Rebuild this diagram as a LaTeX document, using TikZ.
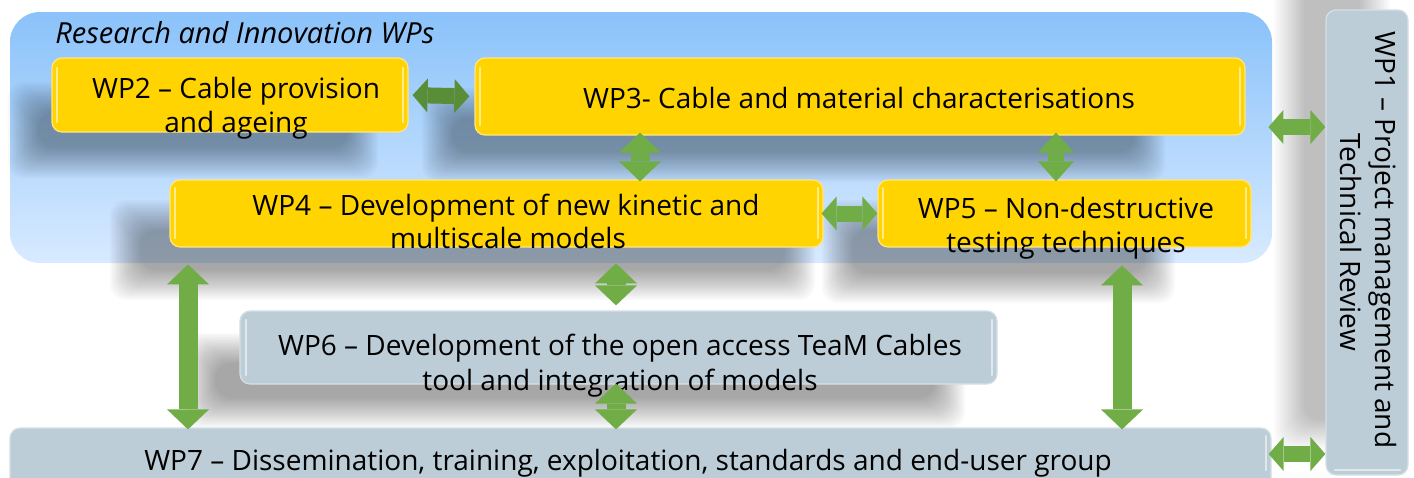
\documentclass[tikz,border=0pt]{standalone}
\usepackage{fontspec}
\setmainfont{Open Sans}
\usetikzlibrary{arrows.meta}
\definecolor{wpyellow}{HTML}{FFD400}
\definecolor{wpyedge}{HTML}{FFE680}
\definecolor{wpgray}{HTML}{BCCDD7}
\definecolor{wpgedge}{HTML}{D5E0E7}
\definecolor{bgtop}{HTML}{8AC2FA}
\definecolor{bgbot}{HTML}{D8EAFF}
\definecolor{arrg}{HTML}{70AD47}
\definecolor{arrgdark}{HTML}{4F7F32}
\newcommand\softshadow[5]{%
  \foreach \k in {0,...,15}{%
    \fill[black, opacity=#5, rounded corners=8pt] (#1+\k*2, #2+\k*2) rectangle (#3-\k*2, #4-\k*2);}}
\begin{document}
\begin{tikzpicture}[x=0.5pt,y=-0.5pt,
  ybox/.style={draw=wpyedge, line width=0.6pt, fill=wpyellow, rounded corners=5pt, inner sep=0pt},
  gbox/.style={draw=wpgedge, line width=0.6pt, fill=wpgray, rounded corners=5pt, inner sep=0pt},
  bgbox/.style={rounded corners=15pt, top color=bgtop, bottom color=bgbot, inner sep=0pt},
  lbl/.style={anchor=base, inner sep=0pt, font=\fontsize{14}{16}\selectfont},
  ttlstyle/.style={anchor=base west, inner sep=0pt, font=\fontsize{14.5}{16}\selectfont\itshape},
  gloss/.style={line width=1.2pt, white, opacity=0.55, line cap=round},
  dblH/.style={draw=arrg, line width=8pt,
    {Triangle[length=7.5pt,width=17pt,line width=0pt]}-{Triangle[length=7.5pt,width=17pt,line width=0pt]}},
  dblV/.style={draw=arrg, line width=9.5pt,
    {Triangle[length=10pt,width=21pt,line width=0pt]}-{Triangle[length=10pt,width=21pt,line width=0pt]}},
  dblS/.style={draw=arrg, line width=8pt,
    {Triangle[length=10pt,width=18pt,line width=0pt]}-{Triangle[length=10pt,width=18pt,line width=0pt]}},
]
\useasboundingbox (0,0) rectangle (1414,477);
\fill[white] (0,0) rectangle (1414,477);

% research & innovation background
\node[bgbox, minimum width=631pt, minimum height=125.5pt] (ri) at (641,137.5) {};

% shadows
\softshadow{8}{82}{378}{178}{0.022}
\softshadow{422}{88}{1165}{182}{0.022}
\softshadow{110}{200}{815}{300}{0.022}
\softshadow{822}{200}{1175}{303}{0.022}
\softshadow{185}{333}{965}{428}{0.022}
\softshadow{1274}{-40}{1390}{450}{0.015}

% boxes
\node[ybox, minimum width=178pt, minimum height=37pt] (wp2) at (230,95) {};
\node[ybox, minimum width=385pt, minimum height=38.5pt] (wp3) at (860,96.5) {};
\node[ybox, minimum width=326.5pt, minimum height=33.5pt] (wp4) at (496.5,213.5) {};
\node[ybox, minimum width=186.5pt, minimum height=33.5pt] (wp5) at (1064.5,213.5) {};
\node[gbox, minimum width=378.5pt, minimum height=36.5pt] (wp6) at (618.5,347.5) {};
\node[gbox, minimum width=630.5pt, minimum height=31pt] (wp7) at (640.5,459) {};
\node[gbox, minimum width=41pt, minimum height=232.5pt] (wp1) at (1367,242.5) {};

% gloss highlights
\draw[gloss] (57,68) -- (57,122);  \draw[gloss] (403,68) -- (403,122);
\draw[gloss] (480,68) -- (480,125); \draw[gloss] (1240,68) -- (1240,125);
\draw[gloss] (175,188) -- (175,238); \draw[gloss] (818,188) -- (818,238);
\draw[gloss] (883,188) -- (883,238); \draw[gloss] (1246,188) -- (1246,238);
\draw[gloss] (246,320) -- (246,375); \draw[gloss] (992,320) -- (992,375);
\draw[gloss] (1266,436) -- (1266,470);
\draw[gloss] (1335,470) -- (1400,470);

% texts
\node[ttlstyle] (ttl) at (55,43) {Research and Innovation WPs};
\node[lbl] (t2a) at (236,98) {WP2 – Cable provision};
\node[lbl] (t2b) at (236,132) {and ageing};
\node[lbl] (t3) at (859,108) {WP3- Cable and material characterisations};
\node[lbl] (t4a) at (506,215) {WP4 – Development of new kinetic and};
\node[lbl] (t4b) at (508,248) {multiscale models};
\node[lbl] (t5a) at (1066,218) {WP5 – Non-destructive};
\node[lbl] (t5b) at (1066,252) {testing techniques};
\node[lbl] (t6a) at (620,355) {WP6 – Development of the open access TeaM Cables};
\node[lbl] (t6b) at (620,390) {tool and integration of models};
\node[lbl] (t7) at (628,470) {WP7 – Dissemination, training, exploitation, standards and end-user group};
\node[lbl, rotate=-90] (t1a) at (1375,240) {WP1 – Project management and};
\node[lbl, rotate=-90] (t1b) at (1340,242) {Technical Review};

% helper coordinates
\coordinate (c188) at (188,0);
\coordinate (c616) at (616,0);
\coordinate (c640) at (640,0);
\coordinate (c1056) at (1056,0);
\coordinate (c1122) at (1122,0);
\coordinate (r127) at (0,127);
\coordinate (r454) at (0,454);

% connectors
\draw[dblH, draw=arrgdark!70!arrg, shorten <=2pt, shorten >=2.5pt] (wp2.east) -- (wp3.west);
\draw[dblV, shorten <=-1.5pt, shorten >=-1pt] (wp3.south -| c640) -- (wp4.north -| c640);
\draw[dblS, shorten <=-1.5pt, shorten >=-1pt] (wp3.south -| c1056) -- (wp5.north -| c1056);
\draw[dblH, shorten <=-1pt, shorten >=0pt] (wp4.east) -- (wp5.west);
\draw[dblV, shorten >=2.5pt] (ri.south -| c616) -- (wp6.north -| c616);
\draw[dblV, shorten <=-0.5pt, shorten >=-1pt] (wp6.south -| c616) -- (wp7.north -| c616);
\draw[dblV, shorten <=0.5pt, shorten >=-1pt] (ri.south -| c188) -- (wp7.north -| c188);
\draw[dblV, shorten <=1pt, shorten >=-1pt] (ri.south -| c1122) -- (wp7.north -| c1122);
\draw[dblH, shorten <=-2pt] (ri.east |- r127) -- (wp1.west |- r127);
\draw[dblH, shorten <=-1.5pt] (wp7.east |- r454) -- (wp1.west |- r454);
\end{tikzpicture}
\end{document}
